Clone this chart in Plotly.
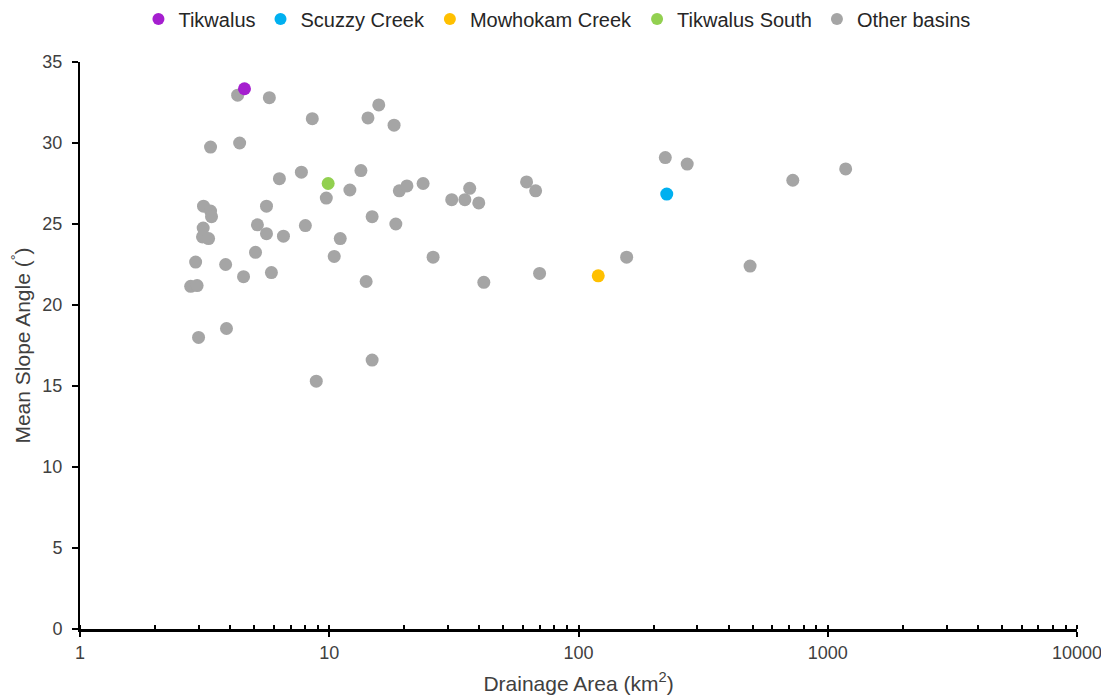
import plotly.graph_objects as go

# Highlighted basins (area km2, mean slope deg)
tik_x = [4.57]
tik_y = [33.35]
scu_x = [226]
scu_y = [26.85]
mow_x = [120]
mow_y = [21.8]
tks_x = [9.9]
tks_y = [27.5]

# Other basins
other_x = [4.29, 5.75, 8.55, 15.8, 14.3, 18.2, 4.37, 3.34, 6.31, 7.73,
           13.4, 12.1, 9.73, 19.1, 20.5, 23.8, 31.0, 35.0, 36.6, 39.8,
           61.9, 67.3, 223, 273, 724, 1180, 488, 156, 69.8, 41.7,
           26.1, 14.06, 14.86, 18.5, 11.07, 10.47, 8.02, 6.55, 5.6, 5.15,
           5.6, 5.06, 5.86, 4.53, 3.84, 2.91, 2.78, 2.95, 3.87, 2.99,
           8.87, 14.86, 3.13, 3.34, 3.37, 3.12, 3.1, 3.28]
other_y = [32.95, 32.8, 31.5, 32.35, 31.55, 31.1, 30.0, 29.75, 27.8, 28.2,
           28.3, 27.1, 26.6, 27.05, 27.35, 27.5, 26.5, 26.5, 27.2, 26.3,
           27.6, 27.05, 29.1, 28.7, 27.7, 28.4, 22.4, 22.95, 21.95, 21.4,
           22.95, 21.45, 25.45, 25.0, 24.1, 23.0, 24.9, 24.25, 26.1, 24.95,
           24.4, 23.25, 22.0, 21.75, 22.5, 22.65, 21.15, 21.2, 18.55, 18.0,
           15.3, 16.6, 26.1, 25.8, 25.45, 24.75, 24.2, 24.1]

x_ticks = [1, 10, 100, 1000, 10000]
x_tick_text = ["1", "10", "100", "1000", "10000"]

font_family = "Liberation Sans, Arial, sans-serif"
msize = 13

fig = go.Figure()
series = [
    ("Tikwalus", tik_x, tik_y, "#A51ECF"),
    ("Scuzzy Creek", scu_x, scu_y, "#00B0F0"),
    ("Mowhokam Creek", mow_x, mow_y, "#FFC000"),
    ("Tikwalus South", tks_x, tks_y, "#92D050"),
    ("Other basins", other_x, other_y, "#A5A5A5"),
]
# draw other basins first so highlighted points are on top, keep legend order
order = [4, 0, 1, 2, 3]
for i in order:
    name, xs, ys, col = series[i]
    fig.add_trace(go.Scatter(
        x=xs, y=ys, mode="markers", name=name,
        marker=dict(size=msize, color=col, line=dict(width=0)),
        legendrank=i + 1,
    ))

fig.update_layout(
    width=1109, height=698,
    margin=dict(l=72, r=40, t=54, b=77, autoexpand=False),
    paper_bgcolor="white", plot_bgcolor="white",
    font=dict(family=font_family, size=18, color="#404040"),
    showlegend=True,
    legend=dict(orientation="h", x=0.495, xref="container", xanchor="center",
                y=1 - 11 / 698, yref="container", yanchor="middle",
                font=dict(size=20, color="#262626"), itemwidth=30,
                tracegroupgap=0, traceorder="normal", itemsizing="constant"),
    xaxis=dict(
        type="log", range=[0, 4],
        tickvals=x_ticks, ticktext=x_tick_text,
        ticks="outside", ticklen=5, tickwidth=2, tickcolor="black",
        showline=True, linecolor="black", linewidth=3,
        showgrid=False, zeroline=False, automargin=False,
        tickfont=dict(size=18, color="#404040"),
        minor=dict(ticks="inside", ticklen=4, tickwidth=2, tickcolor="black",
                   dtick="D1", showgrid=False),
        title=dict(text="Drainage Area (km<sup>2</sup>)", font=dict(size=21, color="#404040"),
                   standoff=15),
    ),
    yaxis=dict(
        range=[0, 35], dtick=5,
        ticks="outside", ticklen=6, tickwidth=2, tickcolor="black",
        showline=True, linecolor="black", linewidth=2,
        showgrid=False, zeroline=False, automargin=False,
        ticklabelstandoff=6,
        tickfont=dict(size=18, color="#404040"),
        title=dict(text="Mean Slope Angle (<sup>°</sup>)", font=dict(size=21, color="#404040"),
                   standoff=14),
    ),
)

fig.write_html("out.html")
